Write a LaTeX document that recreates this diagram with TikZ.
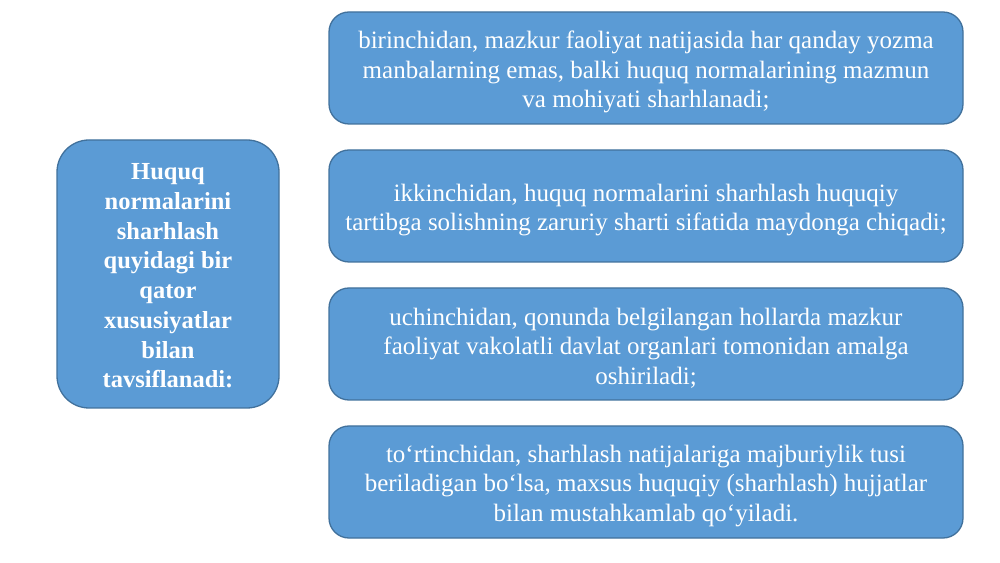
\documentclass[tikz,border=0pt]{standalone}
\usepackage{fontspec}
\setmainfont{Liberation Serif}
\definecolor{boxfill}{HTML}{5B9BD5}
\definecolor{boxline}{HTML}{41719C}
\begin{document}
\begin{tikzpicture}[x=1pt,y=1pt,
  bluebox/.style={draw=boxline, line width=1.3pt, fill=boxfill, inner sep=0pt},
  rtext/.style={text=white, align=center, inner sep=0pt, yshift=-4pt,
    font=\fontsize{25}{29.5}\selectfont},
  ltext/.style={text=white, align=center, inner sep=0pt, yshift=-2pt,
    font=\fontsize{24.5}{29.7}\selectfont\bfseries},
  rbox/.style={bluebox, rounded corners=20pt, minimum width=634pt, minimum height=112pt},
  lbox/.style={bluebox, rounded corners=32pt, minimum width=222pt, minimum height=268pt}]
\useasboundingbox (0,0) rectangle (1000,562);
\node[lbox, label={[ltext]center:{Huquq\\ normalarini\\ sharhlash\\ quyidagi bir\\ qator\\ xususiyatlar\\ bilan\\ tavsiflanadi:}}] (main) at (168,288) {};
\node[rbox, label={[rtext]center:{birinchidan, mazkur faoliyat natijasida har qanday yozma\\ manbalarning emas, balki huquq normalarining mazmun\\ va mohiyati sharhlanadi;}}] (b1) at (646,494) {};
\node[rbox, label={[rtext]center:{ikkinchidan, huquq normalarini sharhlash huquqiy\\ tartibga solishning zaruriy sharti sifatida maydonga chiqadi;}}] (b2) at (646,356) {};
\node[rbox, label={[rtext]center:{uchinchidan, qonunda belgilangan hollarda mazkur\\ faoliyat vakolatli davlat organlari tomonidan amalga\\ oshiriladi;}}] (b3) at (646,218) {};
\node[rbox, label={[rtext]center:{to‘rtinchidan, sharhlash natijalariga majburiylik tusi\\ beriladigan bo‘lsa, maxsus huquqiy (sharhlash) hujjatlar\\ bilan mustahkamlab qo‘yiladi.}}] (b4) at (646,80) {};
\end{tikzpicture}
\end{document}
